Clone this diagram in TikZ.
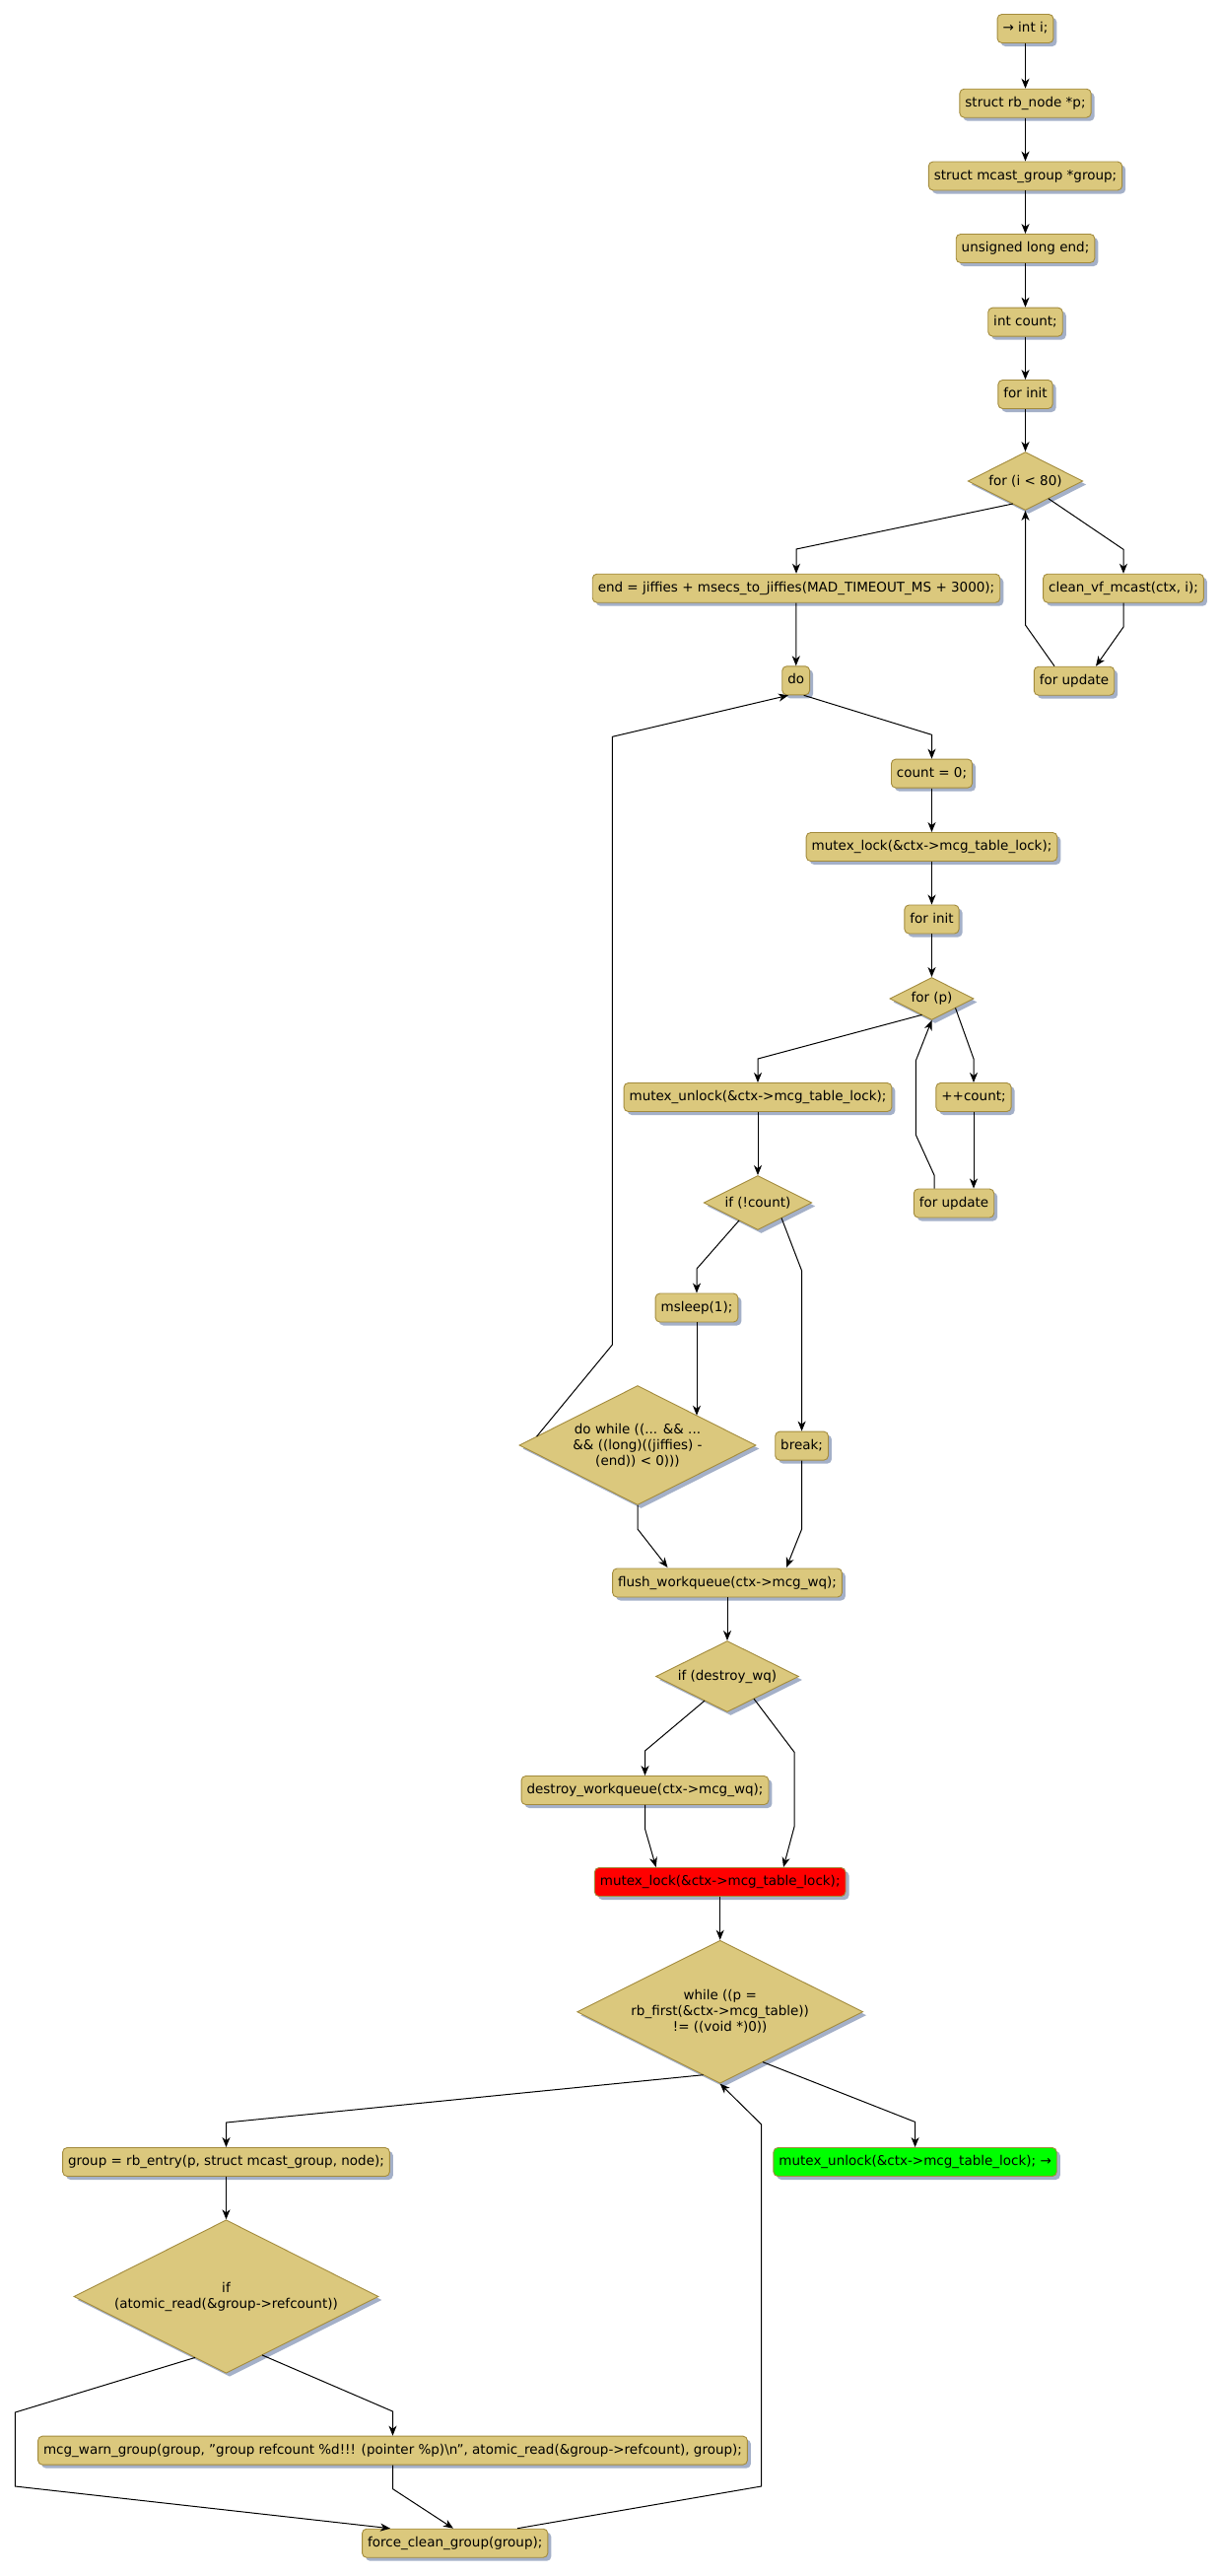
\documentclass[tikz,border=0pt]{standalone}
\usepackage{fontspec}
\setmainfont{DejaVu Sans}
\usetikzlibrary{shapes.geometric,arrows.meta,shadows,calc}
\definecolor{boxfill}{HTML}{DBC87D}
\definecolor{boxline}{HTML}{A38B3D}
\definecolor{shadowc}{HTML}{A4B0C8}
\newcommand{\diafont}{\fontsize{13.5pt}{16pt}\selectfont}
\begin{document}
\begin{tikzpicture}[x=1pt,y=-1pt,
  box/.style={draw=boxline, fill=boxfill, line width=0.9pt, rounded corners=4.5pt,
    minimum height=29pt, inner xsep=5.5pt, inner ysep=0pt, text height=10pt, text depth=3pt,
    font=\diafont, drop shadow={shadow xshift=3.5pt, shadow yshift=-3.5pt, fill=shadowc, opacity=1}},
  dia/.style={diamond, draw=boxline, fill=boxfill, line width=0.9pt, inner sep=0pt, aspect=2,
    align=center, font=\diafont, drop shadow={shadow xshift=3.5pt, shadow yshift=-3.5pt, fill=shadowc, opacity=1}},
  arr/.style={draw=black, line width=1pt, -{Stealth[length=10pt,width=8pt,inset=3pt]}}
]
\useasboundingbox (0,0) rectangle (1238,2613);
\fill[white] (0,0) rectangle (1238,2613);

% nodes
\node[box] (n1) at (1040.5,29) {→ int i;};
\node[box] (n2) at (1040.5,104.7) {struct rb\_node *p;};
\node[box] (n3) at (1040.5,178.5) {struct mcast\_group *group;};
\node[box] (n4) at (1040.5,252) {unsigned long end;};
\node[box] (n5) at (1040.5,326.6) {int count;};
\node[box] (n6) at (1040.5,400) {for init};
\node[dia, minimum width=116.5pt, minimum height=59pt] (d1) at (1040.5,488) {for (i < 80)};
\node[box] (n7) at (808,596.7) {end = jiffies + msecs\_to\_jiffies(MAD\_TIMEOUT\_MS + 3000);};
\node[box] (n8) at (1140,596.7) {clean\_vf\_mcast(ctx, i);};
\node[box] (n9) at (807.7,690.3) {do};
\node[box] (n10) at (1090,690.7) {for update};
\node[box] (n11) at (945.5,784.6) {count = 0;};
\node[box] (n12) at (945.5,859) {mutex\_lock(\&ctx->mcg\_table\_lock);};
\node[box] (n13) at (945.5,932.5) {for init};
\node[dia, minimum width=85pt, minimum height=43pt] (d2) at (945.5,1013) {for (p)};
\node[box] (n14) at (769,1113) {mutex\_unlock(\&ctx->mcg\_table\_lock);};
\node[box] (n15) at (988,1113) {++count;};
\node[box] (n16) at (968,1220.5) {for update};
\node[dia, minimum width=109.5pt, minimum height=55pt] (d3) at (769,1220) {if (!count)};
\node[box] (n17) at (707,1326.5) {msleep(1);};
\node[dia, minimum width=240pt, minimum height=121pt] (d4) at (647,1466) {do while ((... \&\& ...\\\&\& ((long)((jiffies) -\\(end)) < 0)))};
\node[box] (n18) at (813.6,1466.6) {break;};
\node[box] (n19) at (738,1605.5) {flush\_workqueue(ctx->mcg\_wq);};
\node[dia, minimum width=145pt, minimum height=72pt] (d5) at (738,1700.5) {if (destroy\_wq)};
\node[box] (n20) at (654.5,1816) {destroy\_workqueue(ctx->mcg\_wq);};
\node[box, fill=red] (n21) at (730.7,1909) {mutex\_lock(\&ctx->mcg\_table\_lock);};
\node[dia, minimum width=290pt, minimum height=145pt] (d6) at (730.7,2040.7) {while ((p =\\rb\_first(\&ctx->mcg\_table))\\!= ((void *)0))};
\node[box] (n22) at (229.5,2193) {group = rb\_entry(p, struct mcast\_group, node);};
\node[box, fill=green] (n23) at (928.6,2193) {mutex\_unlock(\&ctx->mcg\_table\_lock); →};
\node[dia, minimum width=309pt, minimum height=155.5pt] (d7) at (229.5,2329.5) {if\\(atomic\_read(\&group->refcount))};
\node[box] (n24) at (398.5,2485.6) {mcg\_warn\_group(group, "group refcount \%d!!! (pointer \%p)\textbackslash n", atomic\_read(\&group->refcount), group);};
\node[box] (n25) at (461.7,2579.7) {force\_clean\_group(group);};

% connectors
\draw[arr] (n1) -- (n2);
\draw[arr] (n2) -- (n3);
\draw[arr] (n3) -- (n4);
\draw[arr] (n4) -- (n5);
\draw[arr] (n5) -- (n6);
\draw[arr] (n6) -- (d1);
\draw[arr] ($(d1)+(-12.7,23)$) -- (808,557) -- (n7);
\draw[arr] ($(d1)+(23.3,17.7)$) -- (1140,557.3) -- (n8);
\draw[arr] (n8) -- (1140,636) -- ($(n10)+(22,-15)$);
\draw[arr] ($(n10)+(-20,-15)$) -- (1040.5,634) -- (d1);
\draw[arr] (n7) -- (n9);
\draw[arr] ($(n9)+(8,15)$) -- (945.5,745.3) -- (n11);
\draw[arr] (n11) -- (n12);
\draw[arr] (n12) -- (n13);
\draw[arr] (n13) -- (d2);
\draw[arr] ($(d2)+(-10,16.4)$) -- (769,1074) -- (n14);
\draw[arr] ($(d2)+(24,9.4)$) -- (988,1074) -- (n15);
\draw[arr] (n15) -- ($(n16)+(20,-15)$);
\draw[arr] ($(n16)+(-20,-15)$) -- (948,1192) -- (929.3,1151) -- (929.3,1076) -- (d2.south);
\draw[arr] (n14) -- (d3);
\draw[arr] ($(d3)+(-19,18)$) -- (707,1287) -- (n17);
\draw[arr] ($(d3)+(24,15.4)$) -- (813.6,1289) -- (n18);
\draw[arr] (n17) -- ($(d4)+(60,-30.25)$);
\draw[arr] ($(d4)+(-102.4,-8.9)$) -- (621.4,1364) -- (621.4,747.3) -- ($(n9)+(-7.7,15)$);
\draw[arr] (d4.south) -- (647,1551) -- ($(n19)+(-60.5,-15.5)$);
\draw[arr] (n18) -- (813.6,1551) -- ($(n19)+(60,-15.5)$);
\draw[arr] (n19) -- (d5);
\draw[arr] ($(d5)+(-23,24.6)$) -- (654.5,1776) -- (n20);
\draw[arr] ($(d5)+(27,22.6)$) -- (806,1777.3) -- (806,1853) -- ($(n21)+(64.3,-15)$);
\draw[arr] (n20) -- (654.5,1855) -- ($(n21)+(-65,-15)$);
\draw[arr] (n21) -- (d6);
\draw[arr] ($(d6)+(-17.1,64)$) -- (229.5,2153) -- (n22);
\draw[arr] ($(d6)+(43.3,50.9)$) -- (928.6,2152.4) -- (n23);
\draw[arr] (n22) -- (d7);
\draw[arr] ($(d7)+(-31.5,61.9)$) -- (15.4,2447) -- (15.4,2522) -- ($(n25)+(-65.7,-15)$);
\draw[arr] ($(d7)+(36.5,59.4)$) -- (398.5,2446) -- (n24);
\draw[arr] (n24) -- (398.5,2524.6) -- ($(n25)+(-1.7,-15)$);
\draw[arr] ($(n25)+(63.3,-15)$) -- (772.5,2522) -- (772.5,2154.8) -- (d6.south);
\end{tikzpicture}
\end{document}
